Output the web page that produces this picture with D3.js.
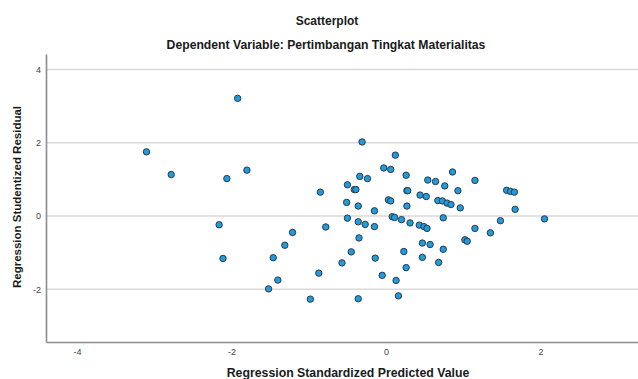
<!DOCTYPE html>
<html>
<head>
<meta charset="utf-8">
<script src="https://cdn.jsdelivr.net/npm/d3@7"></script>
<style>
  html, body { margin: 0; padding: 0; background: #fff; }
  svg { display: block; }
</style>
</head>
<body>
<svg id="chart" width="638" height="379"></svg>
<script>
// Data
const predicted = [
  -1.92, -3.10, -2.78, -2.06, -1.80, -2.16, -2.11, -1.46, -1.40, -1.52,
  -0.31, 0.12, -0.03, 0.06, 0.26, -0.34, -0.24, 0.86, 0.54, 0.64,
  0.76, -0.50, -0.41, -0.39, -0.85, 0.27, 0.28, 0.93, 0.44, 0.52,
  0.03, 0.06, -0.51, 0.67, 0.73, 0.79, 0.84, -0.36, 0.27, 0.96,
  -0.15, 0.08, 0.11, -0.50, 0.20, 0.74, -0.36, 0.31, -0.27, -0.15,
  0.43, 0.49, 0.53, -1.21, -0.78, -0.35, -1.31, 0.47, 0.57, 0.74,
  -0.45, 0.23, 0.47, -0.14, -0.57, 0.68, 0.26, -0.87, -0.05, 0.13,
  -0.98, -0.36, 0.16,
  1.15, 1.56, 1.61, 1.66, 1.67, 1.48, 2.05, 1.15, 1.35, 1.02, 1.05
];
const residual = [
  3.21, 1.75, 1.13, 1.02, 1.25, -0.24, -1.16, -1.14, -1.75, -1.99,
  2.02, 1.66, 1.31, 1.27, 1.11, 1.08, 1.02, 1.20, 0.98, 0.94,
  0.82, 0.85, 0.72, 0.72, 0.65, 0.69, 0.69, 0.69, 0.57, 0.53,
  0.44, 0.41, 0.37, 0.42, 0.41, 0.35, 0.31, 0.27, 0.27, 0.22,
  0.14, -0.02, -0.04, -0.06, -0.10, -0.05, -0.16, -0.19, -0.23, -0.29,
  -0.25, -0.29, -0.34, -0.45, -0.30, -0.60, -0.80, -0.74, -0.78, -0.91,
  -0.98, -0.97, -1.13, -1.15, -1.28, -1.27, -1.41, -1.56, -1.62, -1.76,
  -2.27, -2.26, -2.18,
  0.97, 0.70, 0.67, 0.65, 0.18, -0.13, -0.08, -0.34, -0.46, -0.65, -0.69
];
const xTicks = [-4, -2, 0, 2];
const yTicks = [-2, 0, 2, 4];
const titleText = "Scatterplot";
const subtitleText = "Dependent Variable: Pertimbangan Tingkat Materialitas";
const xTitle = "Regression Standardized Predicted Value";
const yTitle = "Regression Studentized Residual";

const svg = d3.select("#chart");
const font = "'Liberation Sans', Arial, sans-serif";

const pLeft = 46, pRight = 638, pTop = 54, pBottom = 342;
const x = d3.scaleLinear().domain([-4.4, 3.26]).range([pLeft, pRight]);
const y = d3.scaleLinear().domain([-3.44, 4.42]).range([pBottom, pTop]);

// Gridlines
svg.append("g")
  .selectAll("line")
  .data(yTicks)
  .join("line")
  .attr("x1", pLeft).attr("x2", pRight)
  .attr("y1", d => y(d)).attr("y2", d => y(d))
  .attr("stroke", "#d9d9d9")
  .attr("stroke-width", 1.5);

// Axes
const fmt = d => d < 0 ? "-" + Math.abs(d) : String(d);
const yAxis = svg.append("g")
  .attr("transform", `translate(${pLeft},0)`)
  .call(d3.axisLeft(y).tickValues(yTicks).tickSize(0).tickSizeOuter(0).tickPadding(5).tickFormat(fmt));
const xAxis = svg.append("g")
  .attr("transform", `translate(0,${pBottom})`)
  .call(d3.axisBottom(x).tickValues(xTicks).tickSize(0).tickSizeOuter(0).tickPadding(7).tickFormat(fmt));

[yAxis, xAxis].forEach(a => {
  a.select(".domain").attr("stroke", "#8c8c8c").attr("stroke-width", 1.6);
  a.selectAll("text")
    .attr("font-family", font)
    .attr("font-size", 9)
    .attr("fill", "#444");
});

// Points
const pts = predicted.map((v, i) => ({ px: v, ry: residual[i] }));
svg.append("g")
  .selectAll("circle")
  .data(pts)
  .join("circle")
  .attr("cx", d => x(d.px))
  .attr("cy", d => y(d.ry))
  .attr("r", 3.2)
  .attr("fill", "#1f9be0")
  .attr("stroke", "#2d3a44")
  .attr("stroke-width", 1);

// Titles
svg.append("text")
  .attr("x", 327).attr("y", 25)
  .attr("text-anchor", "middle")
  .attr("font-family", font).attr("font-weight", "bold").attr("font-size", 12)
  .attr("fill", "#1a1a1a")
  .text(titleText);
svg.append("text")
  .attr("x", 326).attr("y", 49)
  .attr("text-anchor", "middle")
  .attr("font-family", font).attr("font-weight", "bold").attr("font-size", 12.2)
  .attr("fill", "#1a1a1a")
  .text(subtitleText);
svg.append("text")
  .attr("x", 348).attr("y", 377)
  .attr("text-anchor", "middle")
  .attr("font-family", font).attr("font-weight", "bold").attr("font-size", 12.3)
  .attr("fill", "#1a1a1a")
  .text(xTitle);
svg.append("text")
  .attr("transform", "translate(21,197) rotate(-90)")
  .attr("text-anchor", "middle")
  .attr("font-family", font).attr("font-weight", "bold").attr("font-size", 11.5)
  .attr("fill", "#1a1a1a")
  .text(yTitle);
</script>
</body>
</html>
